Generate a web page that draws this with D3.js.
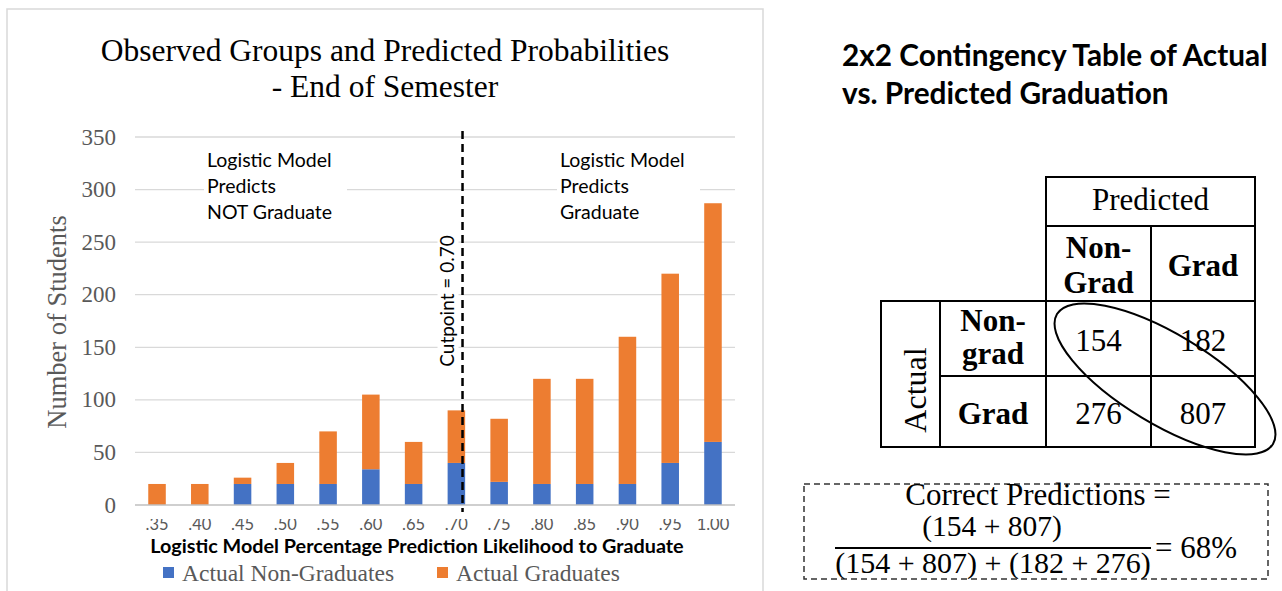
<!DOCTYPE html>
<html>
<head>
<meta charset="utf-8">
<script src="https://cdn.jsdelivr.net/npm/d3@7"></script>
<style>
  html, body { margin: 0; padding: 0; background: #fff; }
  svg { display: block; }
</style>
</head>
<body>
<svg id="chart" width="1282" height="591"></svg>
<script>
// ---- data ----
const categories = [".35", ".40", ".45", ".50", ".55", ".60", ".65", ".70", ".75", ".80", ".85", ".90", ".95", "1.00"];
const nonGraduates = [0, 0, 20, 20, 20, 34, 20, 40, 22, 20, 20, 20, 40, 60];
const graduates    = [20, 20, 6, 20, 50, 71, 40, 50, 60, 100, 100, 140, 180, 227];
const yTicks = [0, 50, 100, 150, 200, 250, 300, 350];
const seriesNames = ["Actual Non-Graduates", "Actual Graduates"];
const cutpoint = ".70";
const tableCols = ["Non-Grad", "Grad"];
const tableRows = ["Non-grad", "Grad"];
const tableValues = [[154, 182], [276, 807]];

const SERIF = "'Liberation Serif', 'Times New Roman', serif";
const SANS = "Lato, 'Noto Sans', sans-serif";
const BLUE = "#4472C4", ORANGE = "#ED7D31", GRID = "#d9d9d9", AXTXT = "#595959";

const svg = d3.select("#chart");

// ---- chart frame ----
svg.append("rect").attr("x", 7).attr("y", 9).attr("width", 756).attr("height", 600)
  .attr("fill", "none").attr("stroke", GRID).attr("stroke-width", 1.5);

// ---- scales ----
const x = d3.scaleBand().domain(categories).range([135, 735]).paddingInner(0.59).paddingOuter(0.31);
const y = d3.scaleLinear().domain([0, 350]).range([505, 137]);

// gridlines
svg.append("g").selectAll("line").data(yTicks.filter(d => d > 0)).join("line")
  .attr("x1", 135).attr("x2", 735).attr("y1", d => y(d)).attr("y2", d => y(d))
  .attr("stroke", GRID).attr("stroke-width", 1.3);

// y axis labels
svg.append("g").selectAll("text").data(yTicks).join("text")
  .attr("x", 116).attr("y", d => y(d) + 7.5).attr("text-anchor", "end")
  .attr("font-family", SERIF).attr("font-size", 23).attr("fill", AXTXT).text(d => d);

// stacked bars
const stackData = categories.map((c, i) => ({cat: c, non: nonGraduates[i], grad: graduates[i]}));
const stack = d3.stack().keys(["non", "grad"])(stackData);
const colors = [BLUE, ORANGE];
svg.append("g").selectAll("g").data(stack).join("g").attr("fill", (d, i) => colors[i])
  .selectAll("rect").data(d => d).join("rect")
  .attr("x", d => x(d.data.cat)).attr("width", x.bandwidth())
  .attr("y", d => y(d[1])).attr("height", d => y(d[0]) - y(d[1]));

// x baseline
svg.append("line").attr("x1", 135).attr("x2", 735).attr("y1", y(0)).attr("y2", y(0))
  .attr("stroke", "#bfbfbf").attr("stroke-width", 1.3);

// x tick labels (top edge trimmed by the plot area)
svg.append("defs").append("clipPath").attr("id", "xlabClip")
  .append("rect").attr("x", 120).attr("y", 519).attr("width", 640).attr("height", 16);
svg.append("g").attr("clip-path", "url(#xlabClip)").selectAll("text").data(categories).join("text")
  .attr("x", d => x(d) + x.bandwidth() / 2).attr("y", 530).attr("text-anchor", "middle")
  .attr("font-family", SANS).attr("font-size", 16.5).attr("fill", AXTXT).text(d => d);

// axis titles
svg.append("text").attr("x", 417).attr("y", 553).attr("text-anchor", "middle")
  .attr("font-family", SANS).attr("font-weight", "bold").attr("font-size", 19.8).attr("fill", "#000")
  .text("Logistic Model Percentage Prediction Likelihood to Graduate");
svg.append("text").attr("transform", "translate(66,322) rotate(-90)").attr("text-anchor", "middle")
  .attr("font-family", SERIF).attr("font-size", 26.5).attr("fill", AXTXT).text("Number of Students");

// title
const title = svg.append("text").attr("text-anchor", "middle")
  .attr("font-family", SERIF).attr("font-size", 31.5).attr("fill", "#000");
title.append("tspan").attr("x", 385).attr("y", 61).text("Observed Groups and Predicted Probabilities");
title.append("tspan").attr("x", 385).attr("y", 97).text("- End of Semester");

// region annotations
function note(x0, lines) {
  svg.append("rect").attr("x", x0 - 3).attr("y", 147).attr("width", 143).attr("height", 80).attr("fill", "#fff");
  svg.append("text").attr("font-family", SANS).attr("font-size", 19.5).attr("fill", "#000")
    .selectAll("tspan").data(lines).join("tspan")
    .attr("x", x0).attr("y", (d, i) => 167 + i * 26).text(d => d);
}
note(207, ["Logistic Model", "Predicts", "NOT Graduate"]);
note(560, ["Logistic Model", "Predicts", "Graduate"]);

// cutpoint line and label
const cx = x(cutpoint) + x.bandwidth() * 0.85;
svg.append("rect").attr("x", cx - 25).attr("y", 230).attr("width", 21).attr("height", 142).attr("fill", "#fff");
svg.append("line").attr("x1", cx).attr("x2", cx).attr("y1", 131).attr("y2", 512)
  .attr("stroke", "#000").attr("stroke-width", 2.5).attr("stroke-dasharray", "8,5");
svg.append("text").attr("transform", `translate(${cx - 9},301) rotate(-90)`).attr("text-anchor", "middle")
  .attr("font-family", SANS).attr("font-size", 19).attr("fill", "#000").text("Cutpoint = " + (+cutpoint).toFixed(2));

// legend
const legX = [163, 437];
seriesNames.forEach((name, i) => {
  svg.append("rect").attr("x", legX[i]).attr("y", 567).attr("width", 11).attr("height", 11).attr("fill", colors[i]);
  svg.append("text").attr("x", legX[i] + 19).attr("y", 581)
    .attr("font-family", SERIF).attr("font-size", 23.5).attr("fill", AXTXT).text(name);
});

// ---- contingency table ----
const rt = svg.append("text").attr("font-family", SANS).attr("font-weight", "bold").attr("font-size", 29.8).attr("fill", "#000");
rt.append("tspan").attr("x", 842).attr("y", 66).text("2x2 Contingency Table of Actual");
rt.append("tspan").attr("x", 842).attr("y", 104).text("vs. Predicted Graduation");

const colX = [881, 940, 1046, 1151, 1255];
const rowY = [177, 226, 301, 376, 447];
const cells = [
  [2, 4, 0, 1], // Predicted header
  [2, 3, 1, 2], [3, 4, 1, 2],
  [0, 1, 2, 4],
  [1, 2, 2, 3], [2, 3, 2, 3], [3, 4, 2, 3],
  [1, 2, 3, 4], [2, 3, 3, 4], [3, 4, 3, 4]
];
svg.append("g").selectAll("rect").data(cells).join("rect")
  .attr("x", d => colX[d[0]]).attr("y", d => rowY[d[2]])
  .attr("width", d => colX[d[1]] - colX[d[0]]).attr("height", d => rowY[d[3]] - rowY[d[2]])
  .attr("fill", "none").attr("stroke", "#000").attr("stroke-width", 2);

const mid = (a, b) => (a + b) / 2;
function label(txt, xc, yb, bold, size) {
  svg.append("text").attr("x", xc).attr("y", yb).attr("text-anchor", "middle")
    .attr("font-family", SERIF).attr("font-weight", bold ? "bold" : "normal")
    .attr("font-size", size || 31).attr("fill", "#000").text(txt);
}
label("Predicted", mid(colX[2], colX[4]), 210, false);
label("Non-", mid(colX[2], colX[3]), 258, true);
label(tableCols[0].split("-")[1], mid(colX[2], colX[3]), 293, true);
label(tableCols[1], mid(colX[3], colX[4]), 276, true);
label("Non-", mid(colX[1], colX[2]), 331, true);
label(tableRows[0].split("-")[1], mid(colX[1], colX[2]), 364, true);
label(tableRows[1], mid(colX[1], colX[2]), 424, true);
const rowBase = [351, 424];
tableValues.forEach((row, r) => row.forEach((v, c) => {
  label(v, mid(colX[2 + c], colX[3 + c]), rowBase[r], false);
}));
svg.append("text").attr("transform", "translate(926,390) rotate(-90)")
  .attr("text-anchor", "middle").attr("font-family", SERIF).attr("font-size", 32).attr("fill", "#000").text("Actual");

// diagonal ellipse around the correct predictions
svg.append("ellipse").attr("transform", "translate(1165,379) rotate(31)")
  .attr("rx", 126).attr("ry", 45).attr("fill", "none").attr("stroke", "#000").attr("stroke-width", 2);

// ---- accuracy formula ----
const correct = tableValues[0][0] + tableValues[1][1];
const wrong = tableValues[0][1] + tableValues[1][0];
const pct = Math.round(100 * correct / (correct + wrong));
svg.append("rect").attr("x", 804).attr("y", 484).attr("width", 464).attr("height", 95)
  .attr("fill", "none").attr("stroke", "#333").attr("stroke-width", 1.5).attr("stroke-dasharray", "6,4");
label("Correct Predictions =", 1038, 505, false, 31);
label(`(${tableValues[0][0]} + ${tableValues[1][1]})`, 992, 536, false, 29.5);
svg.append("line").attr("x1", 835).attr("x2", 1151).attr("y1", 548).attr("y2", 548).attr("stroke", "#000").attr("stroke-width", 1.8);
label(`(${tableValues[0][0]} + ${tableValues[1][1]}) + (${tableValues[0][1]} + ${tableValues[1][0]})`, 993, 573, false, 30);
svg.append("text").attr("x", 1155).attr("y", 558).attr("font-family", SERIF).attr("font-size", 31).attr("fill", "#000").text(`= ${pct}%`);
</script>
</body>
</html>
